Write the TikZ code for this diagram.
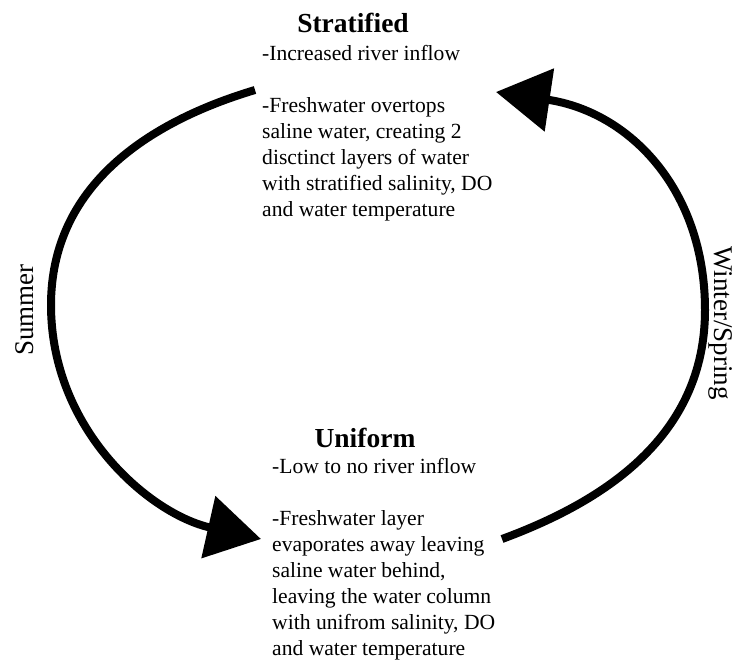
\documentclass[tikz,border=0pt]{standalone}
\usepackage{fontspec}
\setmainfont{Liberation Serif}
\usetikzlibrary{arrows.meta}
\begin{document}
\begin{tikzpicture}[x=1pt,y=1pt,
  title/.style={font=\fontsize{27.5}{33}\selectfont\bfseries, inner sep=0pt, anchor=base},
  body/.style={font=\fontsize{21.6}{26}\selectfont, inner sep=0pt, anchor=north west, align=left},
  season/.style={font=\fontsize{27}{32}\selectfont, inner sep=0pt, anchor=base},
  cycle/.style={line width=8pt, -{Triangle[length=54pt,width=62pt]}}]
\useasboundingbox (0,0) rectangle (736,-664);

% stratified state
\node[title] (strat) at (353,-32) {Stratified};
\node[body] (stratText) at (262,-45) {-Increased river inflow\\[26pt]
  -Freshwater overtops\\
  saline water, creating 2\\
  disctinct layers of water\\
  with stratified salinity, DO\\
  and water temperature};

% uniform state
\node[title] (unif) at (365,-447) {Uniform};
\node[body] (unifText) at (272,-458) {-Low to no river inflow\\[26pt]
  -Freshwater layer\\
  evaporates away leaving\\
  saline water behind,\\
  leaving the water column\\
  with unifrom salinity, DO\\
  and water temperature};

% seasons
\node[season, rotate=90] (summer) at (33,-310) {Summer};
\node[season, rotate=-90] (winter) at (714,-323) {Winter/Spring};

% cycle arrows
\coordinate (sumStart) at (255,-90);
\coordinate (sumEnd) at (261,-539);
\coordinate (winStart) at (502,-539);
\coordinate (winEnd) at (496,-92);
\draw[cycle] (sumStart) .. controls (148,-122) and (51,-186) .. (51,-305)
  .. controls (51,-430) and (150,-514) .. (sumEnd);
\draw[cycle] (winStart) .. controls (605,-501) and (705,-436) .. (705,-310)
  .. controls (705,-190) and (630,-112) .. (winEnd);
\end{tikzpicture}
\end{document}
